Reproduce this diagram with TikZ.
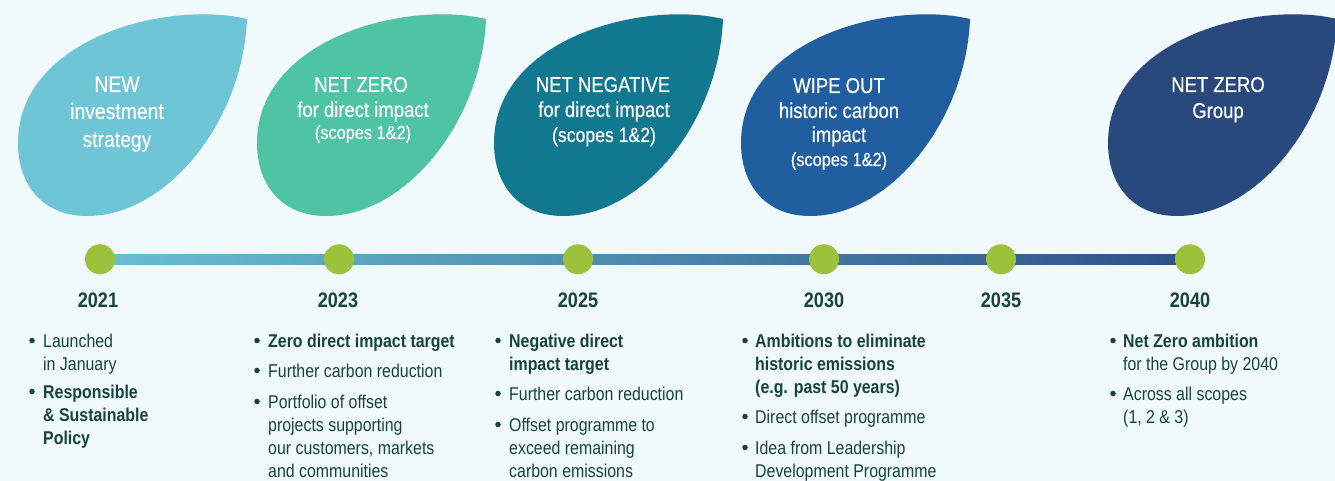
\documentclass[tikz,border=0pt]{standalone}
\usepackage{fontspec}
\setmainfont{Liberation Sans}[FakeStretch=0.86]
\newfontfamily\leaffam{Liberation Sans}[FakeStretch=0.86,FakeBold=0.5]
\definecolor{bgc}{HTML}{F0F9FC}
\definecolor{leafA}{HTML}{6DC5D6}
\definecolor{leafB}{HTML}{4EC4A5}
\definecolor{leafC}{HTML}{117890}
\definecolor{leafD}{HTML}{215E9F}
\definecolor{leafE}{HTML}{29487E}
\definecolor{dotc}{HTML}{9CC13B}
\definecolor{lineL}{HTML}{6BBED2}
\definecolor{lineR}{HTML}{2E5186}
\definecolor{txt}{HTML}{17423F}
\newcommand\myleaf{\leaffam\fontsize{21.5}{24}\selectfont}
\newcommand\myscope{\leaffam\fontsize{19}{22}\selectfont}
\newcommand\mybody{\fontsize{18.5}{23}\selectfont}
\newcommand\myyear{\fontsize{21}{24}\selectfont\bfseries}
\newcommand\mlines[1]{\begin{tabular}[t]{@{}l@{}}#1\end{tabular}}
\tikzset{
  leaf/.pic={\path[pic actions] (229,-19) .. controls (150,0) and (0,-38) .. (0,-143)
     .. controls (0,-185) and (25,-216) .. (69,-216)
     .. controls (150,-216) and (225,-120) .. (229,-19) -- cycle;},
  lt/.style={anchor=base, inner sep=0, text=white, font=\myleaf},
  ls/.style={anchor=base, inner sep=0, text=white, font=\myscope},
  dot/.style={circle, fill=dotc, minimum size=30pt, inner sep=0},
  year/.style={anchor=base, inner sep=0, text=txt, font=\myyear},
  item/.style={anchor=base west, inner sep=0, text=txt, font=\mybody},
  bitem/.style={item, font=\mybody\bfseries},
  bul/.style={circle, fill=txt, minimum size=5.5pt, inner sep=0, yshift=6.5pt}
}
\begin{document}
\begin{tikzpicture}[x=1pt,y=1pt]
\useasboundingbox (0,0) rectangle (1335,-481);
\fill[bgc] (0,0) rectangle (1335,-481);
% leaves
\pic[fill=leafA] (lf1) at (18,0) {leaf};
\pic[fill=leafB] (lf2) at (257,0) {leaf};
\pic[fill=leafC] (lf3) at (494,0) {leaf};
\pic[fill=leafD] (lf4) at (741,0) {leaf};
\pic[fill=leafE] (lf5) at (1108,0) {leaf};
% leaf texts
\node[lt,font=\leaffam\fontsize{22.5}{26}\selectfont] (a1) at (117,-92) {NEW};
\node[lt,font=\leaffam\fontsize{22.5}{26}\selectfont] (a2) at (117,-119) {investment};
\node[lt,font=\leaffam\fontsize{22.5}{26}\selectfont] (a3) at (117,-147) {strategy};
\node[lt] (b1) at (361,-92) {NET ZERO};
\node[lt] (b2) at (363,-117) {for direct impact};
\node[ls] (b3) at (363,-139) {(scopes 1\&2)};
\node[lt] (c1) at (603,-92) {NET NEGATIVE};
\node[lt] (c2) at (604,-117) {for direct impact};
\node[lt,font=\leaffam\fontsize{20.5}{24}\selectfont] (c3) at (604,-142) {(scopes 1\&2)};
\node[lt] (e1) at (839,-93) {WIPE OUT};
\node[lt] (e2) at (839,-118) {historic carbon};
\node[lt] (e3) at (839,-142) {impact};
\node[ls] (e4) at (839,-166) {(scopes 1\&2)};
\node[lt] (f1) at (1218,-92) {NET ZERO};
\node[lt] (f2) at (1218,-118) {Group};
% timeline
\coordinate (t1) at (100,-259.3);
\coordinate (t2) at (339,-259.3);
\coordinate (t3) at (578,-259.3);
\coordinate (t4) at (824,-259.3);
\coordinate (t5) at (1001,-259.3);
\coordinate (t6) at (1190,-259.3);
\shade[left color=lineL, right color=lineR] ([yshift=5.3pt]t1) rectangle ([yshift=-5.3pt]t6);
\foreach \i in {1,...,6} { \node[dot] (d\i) at (t\i) {}; }
\node[year] (y1) at (98,-307) {2021};
\node[year] (y2) at (338,-307) {2023};
\node[year] (y3) at (578,-307) {2025};
\node[year] (y4) at (824,-307) {2030};
\node[year] (y5) at (1001,-307) {2035};
\node[year] (y6) at (1190,-307) {2040};
% column 1
\node[bul] (p1a) at (32,-347) {};
\node[item] (q1a) at (43,-347) {\mlines{Launched\\in January}};
\node[bul] (p1b) at (32,-398) {};
\node[bitem] (q1b) at (43,-398) {\mlines{Responsible\\\& Sustainable\\Policy}};
% column 2
\node[bul] (p2a) at (257,-347) {};
\node[bitem] (q2a) at (268,-347) {Zero direct impact target};
\node[bul] (p2b) at (257,-377) {};
\node[item] (q2b) at (268,-377) {Further carbon reduction};
\node[bul] (p2c) at (257,-408) {};
\node[item] (q2c) at (268,-408) {\mlines{Portfolio of offset\\projects supporting\\our customers, markets\\and communities}};
% column 3
\node[bul] (p3a) at (498,-347) {};
\node[bitem] (q3a) at (509,-347) {\mlines{Negative direct\\impact target}};
\node[bul] (p3b) at (498,-400) {};
\node[item] (q3b) at (509,-400) {Further carbon reduction};
\node[bul] (p3c) at (498,-431) {};
\node[item] (q3c) at (509,-431) {\mlines{Offset programme to\\exceed remaining\\carbon emissions}};
% column 4
\node[bul] (p4a) at (745,-347) {};
\node[bitem] (q4a) at (755,-347) {\mlines{Ambitions to eliminate\\historic emissions\\(e.g. past 50 years)}};
\node[bul] (p4b) at (745,-423) {};
\node[item] (q4b) at (755,-423) {Direct offset programme};
\node[bul] (p4c) at (745,-454) {};
\node[item] (q4c) at (755,-454) {\mlines{Idea from Leadership\\Development Programme}};
% column 5
\node[bul] (p5a) at (1113,-347) {};
\node[item] (q5a) at (1123,-347) {\mlines{\textbf{Net Zero ambition}\\for the Group by 2040}};
\node[bul] (p5b) at (1113,-400) {};
\node[item] (q5b) at (1123,-400) {\mlines{Across all scopes\\(1, 2 \& 3)}};
\end{tikzpicture}
\end{document}
